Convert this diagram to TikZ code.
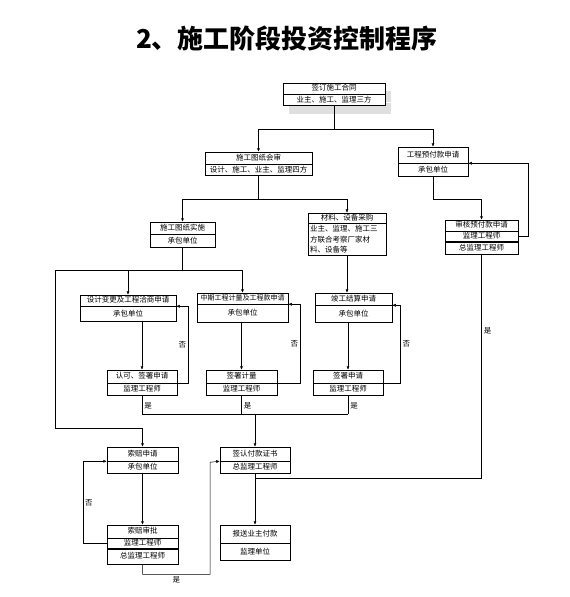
\documentclass[tikz,border=0pt]{standalone}
\usepackage{fontspec}
\setmainfont{Noto Sans CJK SC}
\usetikzlibrary{arrows.meta, positioning, shadows}
\newcommand{\boxfont}{\fontsize{7.5}{10.5}\selectfont}
\newcommand{\titlefont}{\fontsize{26}{30}\selectfont\bfseries}
\tikzset{
  cellbase/.style={rectangle, draw=black, fill=white, inner sep=0pt, font=\boxfont, line width=0.5pt},
  cell/.style={cellbase, align=center, text height=5.8pt, text depth=1pt},
  shadowed/.style={drop shadow={shadow xshift=6pt, shadow yshift=-8pt, fill=gray!25, opacity=1}},
  arrowline/.style={-{Latex[length=3.5pt,width=3pt]}, line width=0.5pt},
  wire/.style={line width=0.5pt},
  lbl/.style={font=\boxfont, inner sep=2pt},
}
\begin{document}
\begin{tikzpicture}[x=1pt, y=-1pt, node distance=0pt]
\useasboundingbox (0,0) rectangle (570,597);
\node[font=\titlefont] (title) at (287,38) {2、施工阶段投资控制程序};

% contract, drawing review, advance payment
\node[cell, shadowed, minimum width=102pt, minimum height=11pt] (A1) at (334,88.5) {签订施工合同};
\node[cell, shadowed, minimum width=102pt, minimum height=11pt, below=of A1] (A2) {业主、施工、监理三方};
\node[cell, minimum width=107pt, minimum height=12pt] (B1) at (258.5,158) {施工图纸会审};
\node[cell, minimum width=107pt, minimum height=11pt, below=of B1] (B2) {设计、施工、业主、监理四方};
\node[cell, minimum width=70pt, minimum height=16pt] (C1) at (433,155) {工程预付款申请};
\node[cell, minimum width=70pt, minimum height=13pt, below=of C1] (C2) {承包单位};
\node[cell, minimum width=73pt, minimum height=11pt] (F1) at (481.5,225.5) {审核预付款申请};
\node[cell, minimum width=73pt, minimum height=10pt, below=of F1] (F2) {监理工程师};
\node[cell, minimum width=73pt, minimum height=12pt, below=of F2] (F3) {总监理工程师};
\node[cell, minimum width=65pt, minimum height=12pt] (D1) at (182.5,228) {施工图纸实施};
\node[cell, minimum width=65pt, minimum height=13pt, below=of D1] (D2) {承包单位};
\node[cell, minimum width=78pt, minimum height=10pt] (E1) at (347,218) {材料、设备采购};
\node[cellbase, minimum width=78pt, minimum height=32pt, text width=74pt, align=left, below=of E1] (E2) {业主、监理、施工三\\方联合考察厂家材\\料、设备等};

% applications
\node[cell, minimum width=96pt, minimum height=11pt] (G1) at (128,300.5) {设计变更及工程洽商申请};
\node[cell, minimum width=96pt, minimum height=15pt, below=of G1] (G2) {承包单位};
\node[cell, minimum width=91pt, minimum height=11pt, font=\fontsize{7}{9}\selectfont] (H1) at (242.5,298.5) {中期工程计量及工程款申请};
\node[cell, minimum width=91pt, minimum height=18pt, below=of H1] (H2) {承包单位};
\node[cell, minimum width=77pt, minimum height=12pt] (I1) at (353.5,299) {竣工结算申请};
\node[cell, minimum width=77pt, minimum height=17pt, below=of I1] (I2) {承包单位};

% supervision
\node[cell, minimum width=70pt, minimum height=13pt] (J1) at (142,376.5) {认可、签署申请};
\node[cell, minimum width=70pt, minimum height=12pt, below=of J1] (J2) {监理工程师};
\node[cell, minimum width=71pt, minimum height=13pt] (K1) at (241.5,376.5) {签署计量};
\node[cell, minimum width=71pt, minimum height=12pt, below=of K1] (K2) {监理工程师};
\node[cell, minimum width=70pt, minimum height=13pt] (L1) at (348,376.5) {签署申请};
\node[cell, minimum width=70pt, minimum height=12pt, below=of L1] (L2) {监理工程师};

% claims and payment
\node[cell, minimum width=71pt, minimum height=14pt] (M1) at (142.5,454) {索赔申请};
\node[cell, minimum width=71pt, minimum height=12pt, below=of M1] (M2) {承包单位};
\node[cell, minimum width=70pt, minimum height=14pt] (N1) at (255,454) {签认付款证书};
\node[cell, minimum width=70pt, minimum height=12pt, below=of N1] (N2) {总监理工程师};
\node[cell, minimum width=71pt, minimum height=13pt] (O1) at (142.5,531.5) {索赔审批};
\node[cell, minimum width=71pt, minimum height=10pt, below=of O1] (O2) {监理工程师};
\node[cell, minimum width=71pt, minimum height=15pt, below=of O2] (O3) {总监理工程师};
\node[cell, minimum width=70pt, minimum height=18pt] (P1) at (255,534) {报送业主付款};
\node[cell, minimum width=70pt, minimum height=17pt, below=of P1] (P2) {监理单位};

% connectors
\draw[wire] (A2.south) -- ++(0,23) coordinate (asplit);
\draw[wire] (B1.north |- asplit) -- (C1.north |- asplit);
\draw[arrowline] (B1.north |- asplit) -- (B1.north);
\draw[arrowline] (C1.north |- asplit) -- (C1.north);

\draw[wire] (B2.south) -- ++(0,23) coordinate (bsplit);
\draw[wire] (D1.north |- bsplit) -- (E1.north |- bsplit);
\draw[arrowline] (D1.north |- bsplit) -- (D1.north);
\draw[arrowline] (E1.north |- bsplit) -- (E1.north);

\draw[arrowline] (C2.south) -- ++(0,22) -| (F1.north);
\draw[arrowline] (F2.east) -- ++(10,0) |- (C1.south east);
\coordinate (fj) at (481.5,478);
\coordinate (nj) at (255,478);
\draw[wire] (F3.south) -- node[lbl, right, pos=0.34] {是} (fj) -- (nj);

\coordinate (dl) at (55,270);
\draw[wire] (D2.south) -- (D2.south |- dl);
\draw[wire] (dl) -- (H1.north |- dl);
\draw[arrowline] (G1.north |- dl) -- (G1.north);
\draw[arrowline] (H1.north |- dl) -- (H1.north);
\draw[arrowline] (dl) -- (55,428) -| (M1.north);
\draw[arrowline] (E2.south) -- (E2.south |- I1.north);

\draw[arrowline] (J1.north |- G2.south) -- (J1.north);
\draw[arrowline] (K1.north |- H2.south) -- (K1.north);
\draw[arrowline] (L1.north |- I2.south) -- (L1.north);
\draw[arrowline] (J1.south east) -- ++(11,0) |- node[lbl, left, pos=0.25] {否} (G1.south east);
\draw[arrowline] (K1.south east) -- ++(23,0) |- node[lbl, left, pos=0.25] {否} (H1.south east);
\draw[arrowline] (L1.south east) -- ++(17,0) |- node[lbl, right, pos=0.25] {否} (I1.south east);

\draw[wire] (J2.south) -- node[lbl, right, pos=0.55] {是} ++(0,18) coordinate (jy);
\draw[wire] (K2.south) -- node[lbl, right, pos=0.55] {是} ++(0,18) coordinate (ky);
\draw[wire] (L2.south) -- node[lbl, right, pos=0.55] {是} ++(0,18) coordinate (ly);
\draw[wire] (jy) -- (ly);
\draw[arrowline] (N1.north |- jy) -- (N1.north);

\draw[arrowline] (M2.south) -- (O1.north);
\draw[arrowline] (O2.west) -- ++(-24,0) |- node[lbl, right, pos=0.25] {否} (M1.south west);
\draw[arrowline] (O3.south) -- ++(0,10) -| node[lbl, below, pos=0.25] {是} ++(67.5,-112) -- (N1.south west);
\draw[arrowline] (N2.south) -- (P1.north);
\end{tikzpicture}
\end{document}
